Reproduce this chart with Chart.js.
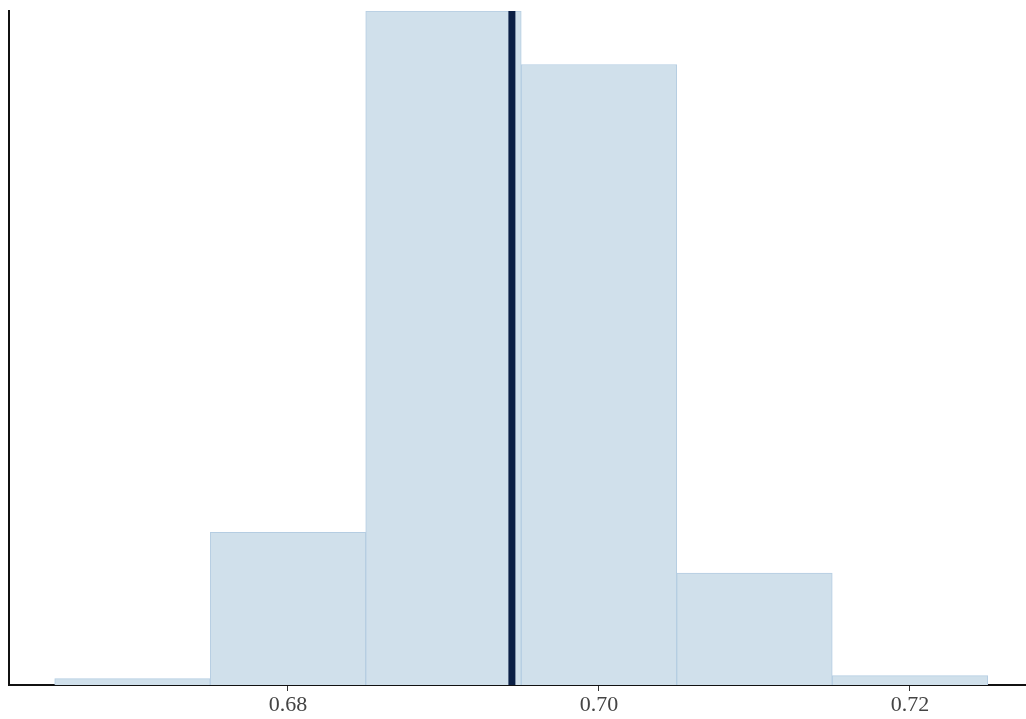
<!DOCTYPE html>
<html>
<head>
<meta charset="utf-8">
<script src="https://cdn.jsdelivr.net/npm/chart.js@4.4.1/dist/chart.umd.min.js"></script>
<style>
  html, body { margin: 0; padding: 0; background: #fff; }
  #wrap { width: 1026px; height: 719px; }
</style>
</head>
<body>
<div id="wrap"><canvas id="hist"></canvas></div>
<script>
// histogram bins (centers, width 0.01) and counts
const binCenters = [0.67, 0.68, 0.69, 0.70, 0.71, 0.72];
const counts = [4, 97, 428, 394, 71, 6];
const tickValues = [0.68, 0.70, 0.72];
const tickLabels = ["0.68", "0.70", "0.72"];
// point estimate shown as the dark vertical line
const estimate = 0.6944;

const xMin = 0.66206;
const xMax = 0.72746;
const yMax = 428;

const barData = binCenters.map((c, i) => ({ x: c, y: counts[i] }));

var ctx = document.getElementById("hist").getContext("2d");
var myChart = new Chart(ctx, {
  type: "bar",
  data: {
    datasets: [
      {
        type: "line",
        data: [{ x: estimate, y: 0 }, { x: estimate, y: yMax }],
        borderColor: "#0b1f45",
        borderWidth: 7,
        pointRadius: 0,
        order: 0,
      },
      {
        type: "bar",
        data: barData,
        backgroundColor: "#d0e0eb",
        borderColor: "#b5cde2",
        borderWidth: 1,
        barPercentage: 1,
        categoryPercentage: 1,
        order: 1,
      },
    ],
  },
  options: {
    responsive: true,
    maintainAspectRatio: false,
    animation: false,
    layout: { padding: { top: 11, right: 0, left: 0, bottom: 0 } },
    plugins: {
      legend: { display: false },
      tooltip: { enabled: false },
    },
    scales: {
      x: {
        type: "linear",
        min: xMin,
        max: xMax,
        offset: false,
        afterBuildTicks: (scale) => {
          scale.ticks = tickValues.map((v) => ({ value: v }));
        },
        afterFit: (scale) => { scale.height = 34; },
        grid: {
          display: true,
          drawOnChartArea: false,
          drawTicks: true,
          tickLength: 6,
          tickColor: "#333",
          tickWidth: 1,
          offset: false,
        },
        border: { display: true, color: "#111", width: 2 },
        ticks: {
          color: "#444",
          padding: 1,
          maxRotation: 0,
          autoSkip: false,
          font: { family: "'Liberation Serif', serif", size: 22 },
          callback: (v) => {
            const i = tickValues.findIndex((t) => Math.abs(t - v) < 1e-9);
            return i >= 0 ? tickLabels[i] : "";
          },
        },
      },
      y: {
        min: 0,
        max: yMax,
        afterFit: (scale) => { scale.width = 9; },
        grid: { display: false },
        ticks: { display: false },
        border: { display: true, color: "#111", width: 2 },
      },
    },
  },
});
</script>
</body>
</html>
